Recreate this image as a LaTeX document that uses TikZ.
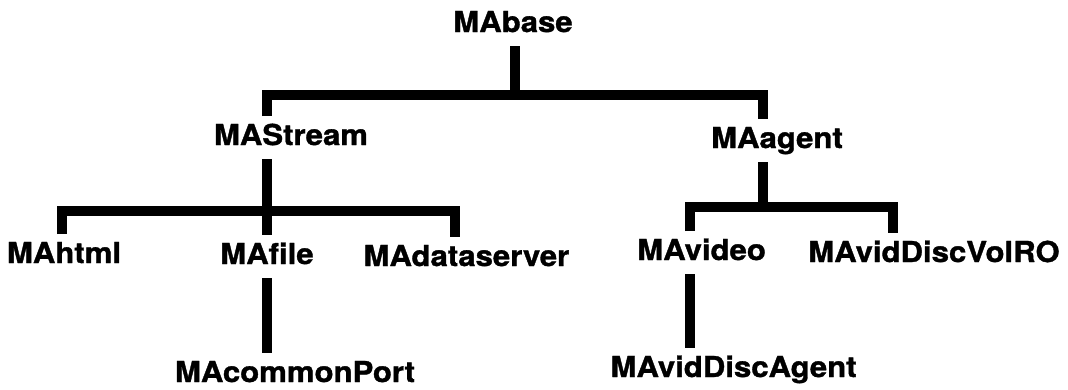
\documentclass[tikz,border=0pt]{standalone}
\usepackage{fontspec}
\newfontfamily\treefont{TeX Gyre Heros}[FakeStretch=1.08, BoldFeatures={FakeBold=1.2}]
\usepackage{tikz}

\tikzset{
    cls/.style={font=\treefont\bfseries\fontsize{20.5pt}{24pt}\selectfont,
        anchor=base, inner sep=0pt, outer sep=0.2cm,
        text height=14.8pt, text depth=4.5pt},
    branch/.style={line width=6.5pt, line join=miter, line cap=butt}
}

\begin{document}
\begin{tikzpicture}

    \useasboundingbox (0,0) rectangle (26.7,-9.725);

    % Class names
    \node[cls] (base) at (12.825,-0.8) {MAbase};
    \node[cls] (stream) at (7.275,-3.625) {MAStream};
    \node[cls] (agent) at (19.425,-3.7) {MAagent};

    \node[cls] (html) at (1.6,-6.575) {MAhtml};
    \node[cls] (file) at (6.675,-6.6) {MAfile};
    \node[cls] (dataserver) at (11.66,-6.65) {MAdataserver};
    \node[cls] (video) at (17.54,-6.5) {MAvideo};
    \node[cls] (vidvol) at (23.35,-6.55) {MAvidDiscVolRO};

    \node[cls] (port) at (7.375,-9.55) {MAcommonPort};
    \node[cls] (vidagent) at (18.34,-9.425) {MAvidDiscAgent};

    % Junctions of the bars
    \coordinate (mj) at (12.875,-2.375);
    \coordinate (ml) at (6.675,-2.375);
    \coordinate (mr) at (19.075,-2.375);
    \coordinate (sl) at (1.55,-5.275);
    \coordinate (sr) at (11.375,-5.275);
    \coordinate (aj) at (19.075,-5.175);
    \coordinate (al) at (17.25,-5.175);
    \coordinate (ar) at (22.325,-5.175);

    % MAbase and its two children
    \draw[branch] (base.south -| mj) -- (mj);
    \draw[branch] (stream.north -| ml) -- (ml) -- (mr) -- (agent.north -| mr);

    % MAStream branch
    \draw[branch] (stream.south -| ml) -- (file.north -| ml);
    \draw[branch] (html.north -| sl) -- (sl) -- (sr) -- (dataserver.north -| sr);
    \draw[branch] (file.south -| ml) -- (port.north -| ml);

    % MAagent branch
    \draw[branch] (agent.south -| aj) -- (aj);
    \draw[branch] (video.north -| al) -- (al) -- (ar) -- (vidvol.north -| ar);
    \draw[branch] (video.south -| al) -- (vidagent.north -| al);

\end{tikzpicture}
\end{document}
